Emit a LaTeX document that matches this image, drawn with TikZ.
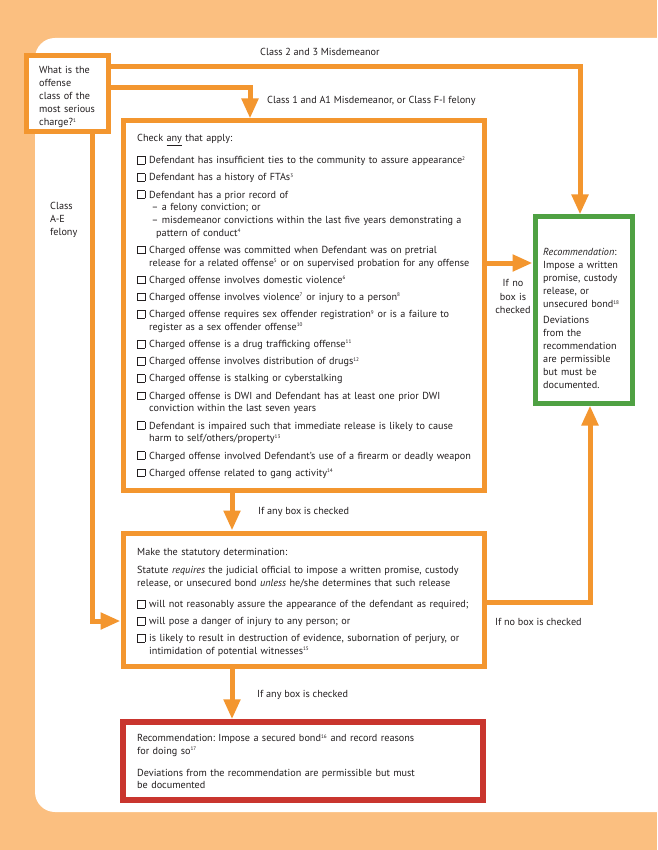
\documentclass[tikz,border=0pt]{standalone}
\usepackage{fontspec}
\setmainfont{PT Sans}
\usetikzlibrary{arrows.meta}
\frenchspacing
\definecolor{bgor}{HTML}{FBBF80}
\definecolor{lnor}{HTML}{F3962F}
\definecolor{grn}{HTML}{4FA143}
\definecolor{rd}{HTML}{C9352E}
\definecolor{txtc}{HTML}{231F20}
\newcommand\supn[1]{\textsuperscript{\fontsize{5.2}{5.2}\selectfont #1}}
\newcommand\cb{\makebox[12pt][l]{\setlength\fboxsep{0pt}\setlength\fboxrule{0.6pt}\fbox{\rule{0pt}{7pt}\rule{7pt}{0pt}}}}
\newcommand\hind{\hspace*{12pt}}
\newcommand\strt{\rule{0pt}{10pt}}
\begin{document}
\begin{tikzpicture}[x=1pt,y=-1pt,
  box/.style={draw=lnor, fill=white, line width=5pt, inner sep=0pt},
  conn/.style={draw=lnor, line width=5pt, line join=miter, -{Triangle[length=20pt,width=16pt]}},
  blk/.style={inner sep=0pt, text=txtc, align=left, anchor=north west, font=\fontsize{10.2}{#1}\selectfont\setlength\parindent{0pt}},
  blk/.default=12.7,
  lbl/.style={inner sep=0pt, text=txtc, anchor=base west, font=\fontsize{10.2}{12.7}\selectfont}]
\useasboundingbox (0,0) rectangle (657,850);
\fill[bgor] (0,0) rectangle (657,850);
\fill[white, rounded corners=20pt] (35,38) rectangle (690,812);
% boxes
\node[box, minimum width=82pt, minimum height=76pt] (q) at (67,94) {};
\node[box, minimum width=361pt, minimum height=369pt] (c) at (303.5,305.5) {};
\node[box, draw=grn, minimum width=97pt, minimum height=186pt] (g) at (583.5,310) {};
\node[box, minimum width=361pt, minimum height=133pt] (s) at (303.5,599.5) {};
\node[box, draw=rd, line width=5.5pt, minimum width=360pt, minimum height=78pt] (r) at (303,761) {};
% helper coordinates
\coordinate (t1) at (580,67);
\coordinate (t2) at (250,88);
\coordinate (t3) at (92,621);
\coordinate (t4) at (0,263);
\coordinate (t5) at (232,0);
\coordinate (t6) at (590,602);
% connectors
\draw[conn] (q.east |- t1) -- (t1) -- (t1 |- g.north);
\draw[conn] (q.east |- t2) -- (t2) -- (t2 |- c.north);
\draw[conn] (q.south -| t3) -- (t3) -- (t3 -| s.west);
\draw[conn] (c.east |- t4) -- (g.west |- t4);
\draw[conn] (c.south -| t5) -- (s.north -| t5);
\draw[conn] (s.east |- t6) -- (t6) -- (t6 |- g.south);
\draw[conn] (s.south -| t5) -- (r.north -| t5);
% texts
\node[blk=13, text width=70pt] (qtext) at (39,63.5) {\strt What is the\\offense\\class of the\\most serious\\charge?\supn{1}};
\node[blk, text width=350pt] (ctext) at (137,131.5) {\strt Check \underline{any} that apply:\\[9.3pt]
\cb Defendant has insufficient ties to the community to assure appearance\supn{2}\\[4.5pt]
\cb Defendant has a history of FTAs\supn{3}\\[4.5pt]
\cb Defendant has a prior record of\\
\hspace*{14.5pt}– a felony conviction; or\\
\hspace*{14.5pt}– misdemeanor convictions within the last five years demonstrating a\\
\hspace*{19pt}pattern of conduct\supn{4}\\[4.5pt]
\cb Charged offense was committed when Defendant was on pretrial\\
\hind release for a related offense\supn{5} or on supervised probation for any offense\\[4.5pt]
\cb Charged offense involves domestic violence\supn{6}\\[4.5pt]
\cb Charged offense involves violence\supn{7} or injury to a person\supn{8}\\[4.5pt]
\cb Charged offense requires sex offender registration\supn{9} or is a failure to\\
\hind register as a sex offender offense\supn{10}\\[4.5pt]
\cb Charged offense is a drug trafficking offense\supn{11}\\[4.5pt]
\cb Charged offense involves distribution of drugs\supn{12}\\[4.5pt]
\cb Charged offense is stalking or cyberstalking\\[4.5pt]
\cb Charged offense is DWI and Defendant has at least one prior DWI\\
\hind conviction within the last seven years\\[4.5pt]
\cb Defendant is impaired such that immediate release is likely to cause\\
\hind harm to self/others/property\supn{13}\\[4.5pt]
\cb Charged offense involved Defendant's use of a firearm or deadly weapon\\[4.5pt]
\cb Charged offense related to gang activity\supn{14}};
\node[blk=13, text width=88pt] (gtext) at (543,245.5) {\strt\textit{Recommendation}:\\Impose a written\\promise, custody\\release, or\\unsecured bond\supn{18}\\[3pt]
Deviations\\from the\\recommendation\\are permissible\\but must be\\documented.};
\node[blk=12.8, text width=350pt] (stext) at (137,545.5) {\strt Make the statutory determination:\\[5.2pt]
Statute \textit{requires} the judicial official to impose a written promise, custody\\
release, or unsecured bond \textit{unless} he/she determines that such release\\[8.2pt]
\cb will not reasonably assure the appearance of the defendant as required;\\[4.2pt]
\cb will pose a danger of injury to any person; or\\[4.2pt]
\cb is likely to result in destruction of evidence, subornation of perjury, or\\
\hind intimidation of potential witnesses\supn{15}};
\node[blk=12.8, text width=350pt] (rtext) at (137,731.5) {\strt Recommendation: Impose a secured bond\supn{16} and record reasons\\
for doing so\supn{17}\\[8.8pt]
Deviations from the recommendation are permissible but must\\
be documented};
% labels
\node[lbl] (l1) at (260,55.5) {Class 2 and 3 Misdemeanor};
\node[lbl] (l2) at (267,103.5) {Class 1 and A1 Misdemeanor, or Class F-I felony};
\node[blk=13, text width=40pt] (l3) at (50,199.5) {\strt Class\\A-E\\felony};
\node[blk=13.5, text width=50pt, align=center, anchor=north] (l4) at (513,276.5) {\strt If no\\box is\\checked};
\node[lbl] (l5) at (258,514.5) {If any box is checked};
\node[lbl] (l6) at (495,625.5) {If no box is checked};
\node[lbl] (l7) at (257,697.5) {If any box is checked};
\end{tikzpicture}
\end{document}
